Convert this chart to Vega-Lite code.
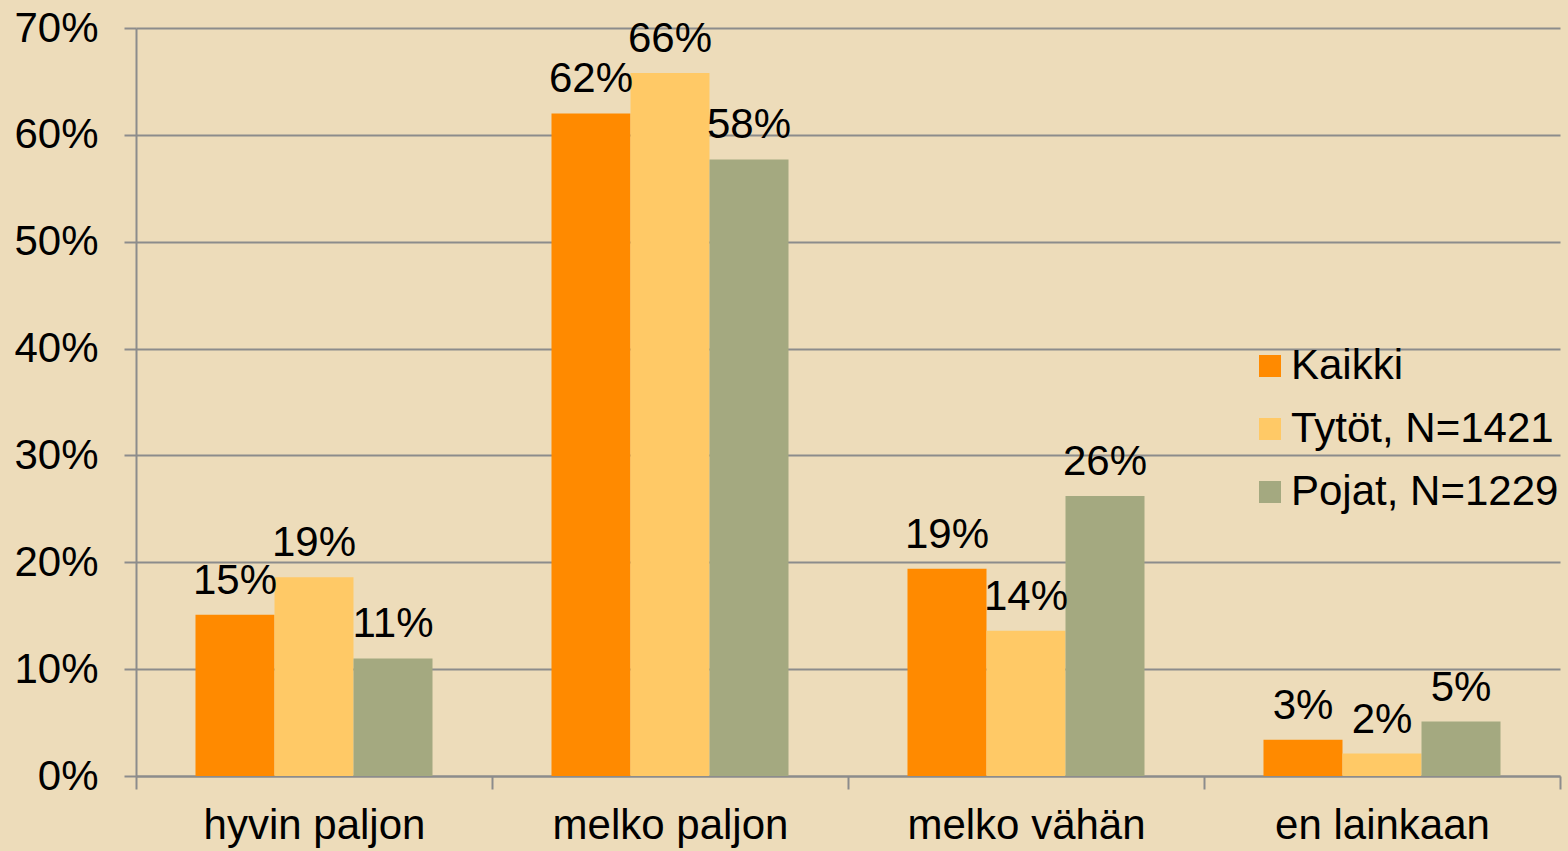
{
  "$schema": "https://vega.github.io/schema/vega-lite/v6.json",
  "autosize": "none",
  "width": 1424,
  "height": 748,
  "padding": {"left": 136, "top": 28, "right": 8, "bottom": 75},
  "background": "#EDDCBA",
  "config": {
    "font": "Liberation Sans",
    "view": {"stroke": null},
    "axis": {"labelFont": "Liberation Sans", "labelFontSize": 42, "labelColor": "#000000", "labelLimit": 600}
  },
  "data": {
    "values": [
      {"kategoria": "hyvin paljon", "ryhmä": "Kaikki", "osuus": 0.151},
      {"kategoria": "hyvin paljon", "ryhmä": "Tytöt, N=1421", "osuus": 0.186},
      {"kategoria": "hyvin paljon", "ryhmä": "Pojat, N=1229", "osuus": 0.110},
      {"kategoria": "melko paljon", "ryhmä": "Kaikki", "osuus": 0.620},
      {"kategoria": "melko paljon", "ryhmä": "Tytöt, N=1421", "osuus": 0.658},
      {"kategoria": "melko paljon", "ryhmä": "Pojat, N=1229", "osuus": 0.577},
      {"kategoria": "melko vähän", "ryhmä": "Kaikki", "osuus": 0.194},
      {"kategoria": "melko vähän", "ryhmä": "Tytöt, N=1421", "osuus": 0.136},
      {"kategoria": "melko vähän", "ryhmä": "Pojat, N=1229", "osuus": 0.262},
      {"kategoria": "en lainkaan", "ryhmä": "Kaikki", "osuus": 0.034},
      {"kategoria": "en lainkaan", "ryhmä": "Tytöt, N=1421", "osuus": 0.021},
      {"kategoria": "en lainkaan", "ryhmä": "Pojat, N=1229", "osuus": 0.051}
    ]
  },
  "encoding": {
    "x": {
      "field": "kategoria",
      "type": "nominal",
      "sort": ["hyvin paljon", "melko paljon", "melko vähän", "en lainkaan"],
      "scale": {"paddingInner": 0, "paddingOuter": 0},
      "axis": {
        "title": null,
        "labelAngle": 0,
        "tickBand": "extent",
        "tickSize": 13,
        "tickColor": "#8C8C8C",
        "tickWidth": 2,
        "domainColor": "#8C8C8C",
        "domainWidth": 2,
        "labelPadding": 16
      }
    },
    "xOffset": {
      "field": "ryhmä",
      "type": "nominal",
      "sort": ["Kaikki", "Tytöt, N=1421", "Pojat, N=1229"],
      "scale": {"paddingInner": 0, "paddingOuter": 0.753}
    },
    "y": {
      "field": "osuus",
      "type": "quantitative",
      "scale": {"domain": [0, 0.7]},
      "axis": {
        "title": null,
        "format": ".0%",
        "values": [0, 0.1, 0.2, 0.3, 0.4, 0.5, 0.6, 0.7],
        "tickSize": 12,
        "tickColor": "#8C8C8C",
        "tickWidth": 2,
        "domainColor": "#8C8C8C",
        "domainWidth": 2,
        "gridColor": "#8C8C8C",
        "gridWidth": 2,
        "labelPadding": 26
      }
    }
  },
  "layer": [
    {
      "mark": {"type": "bar"},
      "encoding": {
        "color": {
          "field": "ryhmä",
          "type": "nominal",
          "sort": ["Kaikki", "Tytöt, N=1421", "Pojat, N=1229"],
          "scale": {
            "domain": ["Kaikki", "Tytöt, N=1421", "Pojat, N=1229"],
            "range": ["#FF8A00", "#FFC966", "#A4A980"]
          },
          "legend": {
            "title": null,
            "orient": "none",
            "legendX": 1113,
            "legendY": 317,
            "symbolType": "square",
            "symbolSize": 484,
            "symbolStrokeWidth": 0,
            "labelFontSize": 42,
            "labelFont": "Liberation Sans",
            "labelColor": "#000000",
            "rowPadding": 21,
            "labelOffset": 0,
            "labelLimit": 400
          }
        }
      }
    },
    {
      "mark": {"type": "text", "baseline": "alphabetic", "dy": -21, "fontSize": 42, "font": "Liberation Sans", "color": "#000000"},
      "encoding": {
        "text": {"field": "osuus", "type": "quantitative", "format": ".0%"}
      }
    }
  ]
}
